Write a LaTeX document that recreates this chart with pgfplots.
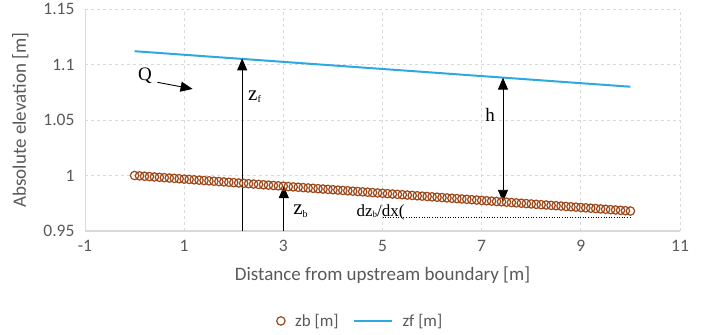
\documentclass[border=0pt]{standalone}
\usepackage{pgfplots}
\pgfplotsset{compat=1.18}
\usepackage{pgfplotstable}
\usepackage{fontspec}
\setmainfont{Carlito}
\newfontfamily\anno{Liberation Serif}
\usetikzlibrary{arrows.meta}
\definecolor{zbcol}{RGB}{158,72,26}
\definecolor{zfcol}{RGB}{46,168,224}
\definecolor{txtgray}{RGB}{89,89,89}
\definecolor{gridgray}{RGB}{217,217,217}
\pgfplotsset{longline/.style={legend image code/.code={\draw[##1] (0pt,0pt) -- (38pt,0pt);}}}
\pgfplotstableread{
x y
0.0 1.00000
0.1 0.99968
0.2 0.99936
0.3 0.99904
0.4 0.99872
0.5 0.99840
0.6 0.99808
0.7 0.99776
0.8 0.99744
0.9 0.99712
1.0 0.99680
1.1 0.99648
1.2 0.99616
1.3 0.99584
1.4 0.99552
1.5 0.99520
1.6 0.99488
1.7 0.99456
1.8 0.99424
1.9 0.99392
2.0 0.99360
2.1 0.99328
2.2 0.99296
2.3 0.99264
2.4 0.99232
2.5 0.99200
2.6 0.99168
2.7 0.99136
2.8 0.99104
2.9 0.99072
3.0 0.99040
3.1 0.99008
3.2 0.98976
3.3 0.98944
3.4 0.98912
3.5 0.98880
3.6 0.98848
3.7 0.98816
3.8 0.98784
3.9 0.98752
4.0 0.98720
4.1 0.98688
4.2 0.98656
4.3 0.98624
4.4 0.98592
4.5 0.98560
4.6 0.98528
4.7 0.98496
4.8 0.98464
4.9 0.98432
5.0 0.98400
5.1 0.98368
5.2 0.98336
5.3 0.98304
5.4 0.98272
5.5 0.98240
5.6 0.98208
5.7 0.98176
5.8 0.98144
5.9 0.98112
6.0 0.98080
6.1 0.98048
6.2 0.98016
6.3 0.97984
6.4 0.97952
6.5 0.97920
6.6 0.97888
6.7 0.97856
6.8 0.97824
6.9 0.97792
7.0 0.97760
7.1 0.97728
7.2 0.97696
7.3 0.97664
7.4 0.97632
7.5 0.97600
7.6 0.97568
7.7 0.97536
7.8 0.97504
7.9 0.97472
8.0 0.97440
8.1 0.97408
8.2 0.97376
8.3 0.97344
8.4 0.97312
8.5 0.97280
8.6 0.97248
8.7 0.97216
8.8 0.97184
8.9 0.97152
9.0 0.97120
9.1 0.97088
9.2 0.97056
9.3 0.97024
9.4 0.96992
9.5 0.96960
9.6 0.96928
9.7 0.96896
9.8 0.96864
9.9 0.96832
10.0 0.96800
}\zbdata
\pgfplotstableread{
x y
0 1.112
10 1.080
}\zfdata
\begin{document}
\begin{tikzpicture}
\begin{axis}[
  at={(0,0)}, anchor=south west,
  scale only axis,
  width=595pt, height=222pt,
  xmin=-1, xmax=11, ymin=0.95, ymax=1.15,
  xtick={-1,1,3,5,7,9,11},
  ytick={0.95,1,1.05,1.1,1.15},
  /pgf/number format/assume math mode=true,
  ticklabel style={font=\fontsize{17.5}{19}\selectfont, text=txtgray},
  xticklabel style={yshift=-6pt},
  yticklabel style={xshift=-7pt},
  major tick length=0pt,
  grid=major,
  major grid style={gridgray, dashed, line width=0.9pt},
  axis line style={draw=none},
  xlabel={Distance from upstream boundary [m]},
  ylabel={Absolute elevation [m]},
  label style={font=\fontsize{19}{21}\selectfont, text=txtgray},
  xlabel style={yshift=-8pt},
  ylabel style={yshift=8pt},
  clip=false,
  legend columns=2,
  legend style={at={(0.463,-0.405)}, anchor=center, draw=none, fill=none,
    font=\fontsize{17}{18}\selectfont, text=txtgray,
    /tikz/every odd column/.append style={column sep=8pt},
    /tikz/every even column/.append style={column sep=12pt}},
  legend cell align=left,
]
\draw[gridgray, line width=1.6pt] (rel axis cs:0,0) -- (rel axis cs:1,0);
\draw[gridgray, line width=1pt] (rel axis cs:0,0) -- (rel axis cs:0,1);
\addplot[only marks, mark=o, mark size=4.2pt, zbcol, mark options={line width=1.2pt}] table[x=x,y=y] {\zbdata};
\addlegendentry{zb [m]}
\addplot[zfcol, line width=2pt, longline] table[x=x,y=y] {\zfdata};
\addlegendentry{zf [m]}
% annotations
\draw[black, line width=0.9pt, -{Triangle[width=10pt,length=12pt]}] (axis cs:0.46,1.084) -- (axis cs:1.17,1.078);
\node[font=\anno\fontsize{19}{20}\selectfont] at (axis cs:0.21,1.0895) {Q};
\draw[black, line width=0.9pt, -{Triangle[width=10pt,length=12pt]}] (axis cs:2.17,0.95) -- (axis cs:2.17,1.1055);
\node[font=\anno\fontsize{21}{22}\selectfont, anchor=west] at (axis cs:2.22,1.071) {z\raisebox{-0.3ex}{\fontsize{10}{11}\selectfont f}};
\draw[black, line width=0.9pt, -{Triangle[width=10pt,length=12pt]}] (axis cs:3.01,0.95) -- (axis cs:3.01,0.9905);
\node[font=\anno\fontsize{21}{22}\selectfont, anchor=west] at (axis cs:3.13,0.968) {z\raisebox{-0.3ex}{\fontsize{10}{11}\selectfont b}};
\draw[black, line width=0.9pt, {Triangle[width=10pt,length=12pt]}-{Triangle[width=10pt,length=12pt]}] (axis cs:7.43,0.9763) -- (axis cs:7.43,1.0882);
\node[font=\anno\fontsize{19}{20}\selectfont] at (axis cs:7.17,1.055) {h};
\node[font=\anno\fontsize{17}{18}\selectfont, anchor=east, inner sep=0pt] at (axis cs:5.45,0.9665) {dz\raisebox{-0.1ex}{\fontsize{9}{10}\selectfont b}/dx(};
\draw[black, line width=0.6pt, dotted] (axis cs:5.0,0.9628) -- (axis cs:10.0,0.9628);
\end{axis}
\path[use as bounding box] (-85pt,-103pt) rectangle (623pt,230pt);
\end{tikzpicture}
\end{document}
